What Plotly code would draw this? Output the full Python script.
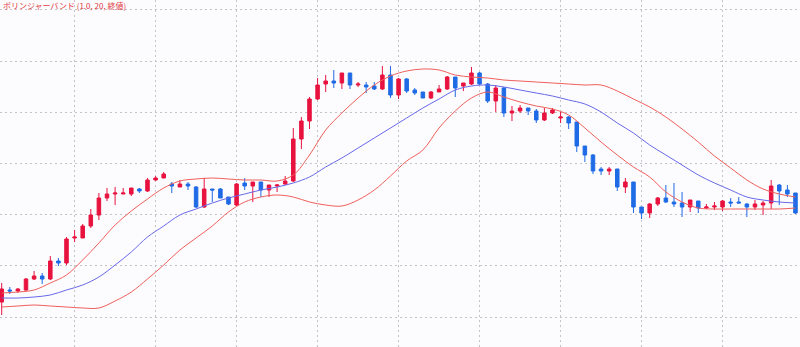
import plotly.graph_objects as go

# Candle index (time step)
idx = list(range(99))

open_ = [45, 57, 56, 57, 68, 71, 68, 86, 84, 109,
         109, 121, 132, 149, 153, 153, 153, 158, 156, 167,
         169, 163, 160, 163, 160, 140, 158, 158, 150, 142,
         164, 161, 165, 157, 161, 163, 166, 208, 226, 248,
         263, 266, 264, 274, 262, 262, 261, 258, 272, 252,
         268, 257, 255, 249, 255, 258, 270, 261, 263, 274,
         263, 246, 259, 234, 236, 239, 236, 227, 234, 229,
         230, 225, 201, 192, 178, 176, 178, 160, 165, 140,
         134, 143, 149, 145, 144, 140, 146, 139, 140, 140,
         145, 145, 143, 140, 142, 144, 162, 157, 154]
high = [64, 60, 59, 69, 76, 74, 91, 89, 110, 117,
        123, 138, 154, 159, 160, 159, 159, 159, 169, 171,
        175, 165, 167, 165, 161, 169, 158, 159, 150, 164,
        169, 165, 165, 162, 163, 171, 219, 230, 250, 269,
        272, 277, 274, 274, 265, 265, 265, 281, 281, 269,
        269, 259, 255, 256, 262, 271, 270, 264, 280, 275,
        264, 262, 260, 241, 242, 239, 238, 239, 239, 235,
        231, 225, 201, 193, 180, 180, 178, 169, 165, 140,
        144, 150, 162, 164, 155, 147, 146, 143, 145, 147,
        149, 150, 144, 147, 146, 167, 163, 162, 154]
low = [32, 53, 54, 56, 67, 63, 67, 81, 82, 105,
       109, 119, 127, 146, 142, 153, 151, 154, 155, 166,
       169, 154, 160, 157, 139, 139, 145, 149, 142, 141,
       157, 145, 150, 150, 155, 162, 165, 198, 218, 247,
       255, 259, 258, 258, 260, 254, 257, 257, 249, 248,
       254, 252, 249, 248, 255, 257, 250, 256, 262, 262,
       244, 235, 230, 226, 234, 232, 224, 226, 233, 224,
       218, 195, 185, 173, 172, 172, 156, 154, 134, 128,
       129, 141, 144, 140, 130, 135, 134, 138, 137, 136,
       140, 144, 130, 137, 132, 138, 142, 150, 133]
close = [58, 56, 58, 68, 71, 68, 86, 84, 108, 110,
         121, 132, 149, 153, 154, 154, 159, 156, 167, 169,
         173, 161, 163, 161, 140, 158, 157, 149, 143, 163,
         161, 165, 157, 162, 162, 166, 208, 226, 248, 262,
         266, 264, 274, 262, 263, 260, 258, 272, 252, 268,
         256, 254, 249, 255, 258, 270, 259, 264, 274, 263,
         246, 259, 234, 236, 239, 236, 227, 234, 237, 230,
         224, 201, 192, 176, 176, 178, 160, 165, 140, 134,
         143, 149, 145, 143, 140, 147, 139, 140, 141, 146,
         144, 144, 140, 143, 144, 161, 156, 153, 134]

# Bollinger band readings (1.0 sigma, 20 periods, close) at every 2nd candle
band_idx = list(range(0, 99, 2))
band_upper = [54, 55, 57, 64, 72, 87, 104, 122, 136, 148,
              159, 166, 168, 169, 168, 167, 167, 166, 172, 192,
              217, 234, 249, 262, 271, 276, 278, 277, 272, 270,
              269, 267, 266, 265, 264, 263, 262, 262, 256, 248,
              240, 230, 218, 205, 191, 179, 167, 158, 153, 150]
band_mid = [49, 49, 50, 52, 57, 62, 70, 82, 95, 110,
            121, 132, 138, 144, 149, 153, 157, 160, 164, 170,
            180, 189, 199, 209, 219, 229, 239, 248, 257, 261,
            262, 260, 257, 254, 251, 247, 243, 235, 224, 214,
            202, 192, 182, 172, 164, 157, 150, 147, 145, 144]
band_lower = [40, 41, 42, 41, 40, 39, 39, 46, 55, 68,
              82, 97, 109, 121, 135, 145, 150, 152, 150, 145,
              142, 141, 147, 157, 171, 186, 197, 219, 236, 249,
              255, 250, 245, 241, 238, 232, 219, 205, 192, 180,
              170, 155, 145, 139, 138, 138, 138, 138, 138, 139]

title_text = "ボリンジャーバンド (1.0, 20, 終値)"

UP = "#e8123f"
DOWN = "#1f6be6"
BAND = "#ef5f5a"
MID = "#6868e8"
BG = "#fcfcfe"
GRID = "#c4c4c8"

fig = go.Figure()
fig.add_trace(go.Scatter(x=band_idx, y=band_upper, mode="lines",
                         line=dict(color=BAND, width=1, shape="spline"),
                         hoverinfo="skip", showlegend=False))
fig.add_trace(go.Scatter(x=band_idx, y=band_lower, mode="lines",
                         line=dict(color=BAND, width=1, shape="spline"),
                         hoverinfo="skip", showlegend=False))
fig.add_trace(go.Scatter(x=band_idx, y=band_mid, mode="lines",
                         line=dict(color=MID, width=1, shape="spline"),
                         hoverinfo="skip", showlegend=False))
fig.add_trace(go.Candlestick(
    x=idx, open=open_, high=high, low=low, close=close,
    increasing=dict(line=dict(color=UP, width=1), fillcolor=UP),
    decreasing=dict(line=dict(color=DOWN, width=1), fillcolor=DOWN),
    showlegend=False))

fig.update_layout(
    width=800, height=347,
    margin=dict(l=0, r=0, t=0, b=0),
    paper_bgcolor=BG, plot_bgcolor=BG,
    boxgap=0.38,
    showlegend=False,
    xaxis=dict(range=[-0.21, 98.56], showticklabels=False, rangeslider=dict(visible=False),
               showgrid=True, gridcolor=GRID, griddash="2px,3px", gridwidth=1,
               tick0=9, dtick=10, zeroline=False, showline=False, ticks=""),
    yaxis=dict(range=[0, 347], showticklabels=False,
               showgrid=True, gridcolor=GRID, griddash="2px,3px", gridwidth=1,
               tick0=30, dtick=51.2, zeroline=False, showline=False, ticks=""),
    annotations=[dict(text=title_text, x=0, y=1, xref="paper", yref="paper",
                      xanchor="left", yanchor="top", showarrow=False, xshift=1, yshift=2,
                      font=dict(family="Noto Sans CJK JP", size=8, color="#e03a40"))],
)

fig.write_html("out.html")
